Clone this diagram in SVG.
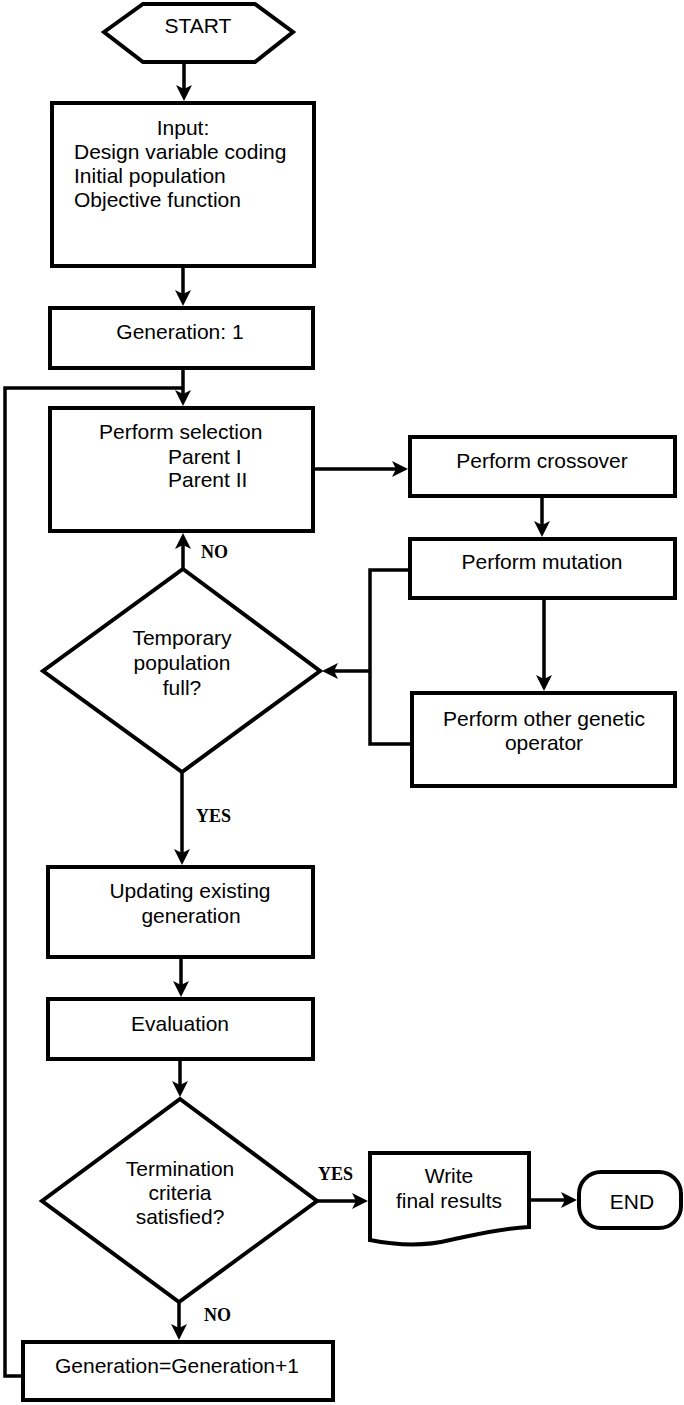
<svg xmlns="http://www.w3.org/2000/svg" width="684" height="1405" viewBox="0 0 684 1405">
<style>
.box{fill:#fff;stroke:#000;stroke-width:4}
.ln{fill:none;stroke:#000;stroke-width:3.5}
.t{font-family:"Liberation Sans",Arial,sans-serif;font-size:21px;fill:#000}
.c{text-anchor:middle}
.lb{font-family:"Liberation Serif","Times New Roman",serif;font-size:18px;font-weight:bold;fill:#000}
</style>
<defs>
<marker id="ah" viewBox="0 0 16 16" refX="11" refY="8" markerWidth="16" markerHeight="16" markerUnits="userSpaceOnUse" orient="auto">
<path d="M0,0 L16,8 L0,16 L4,8 z" fill="#000"/>
</marker>
</defs>
<rect width="684" height="1405" fill="#fff"/>
<g id="connectors">
<line class="ln" x1="184" y1="62" x2="184" y2="96" marker-end="url(#ah)"/>
<line class="ln" x1="183" y1="266" x2="183" y2="301" marker-end="url(#ah)"/>
<line class="ln" x1="183" y1="368" x2="183" y2="401" marker-end="url(#ah)"/>
<polyline class="ln" points="23,1376 5,1376 5,388 183,388"/>
<line class="ln" x1="313" y1="469" x2="403" y2="469" marker-end="url(#ah)"/>
<line class="ln" x1="542" y1="496" x2="542" y2="532" marker-end="url(#ah)"/>
<line class="ln" x1="544" y1="598" x2="544" y2="686" marker-end="url(#ah)"/>
<polyline class="ln" points="410,570 370,570 370,744 412,744"/>
<line class="ln" x1="370" y1="671" x2="327" y2="671" marker-end="url(#ah)"/>
<line class="ln" x1="183" y1="569" x2="183" y2="538" marker-end="url(#ah)"/>
<line class="ln" x1="182" y1="772" x2="182" y2="860" marker-end="url(#ah)"/>
<line class="ln" x1="181" y1="957" x2="181" y2="992" marker-end="url(#ah)"/>
<line class="ln" x1="180" y1="1059" x2="180" y2="1092" marker-end="url(#ah)"/>
<line class="ln" x1="179" y1="1302" x2="179" y2="1335" marker-end="url(#ah)"/>
<line class="ln" x1="317" y1="1201" x2="363" y2="1201" marker-end="url(#ah)"/>
<line class="ln" x1="529" y1="1200" x2="572" y2="1200" marker-end="url(#ah)"/>
<text class="lb" x="201" y="558">NO</text>
<text class="lb" x="196" y="822">YES</text>
<text class="lb" x="318" y="1180">YES</text>
<text class="lb" x="204" y="1321">NO</text>
</g>
<g id="start">
<polygon class="box" points="104,32 143,4 255,4 293,32 255,62 143,62"/>
<text class="t c" x="198" y="33">START</text>
</g>
<g id="input">
<rect class="box" x="52" y="103" width="262" height="163"/>
<text class="t c" x="183" y="135">Input:</text>
<text class="t" x="74" y="159">Design variable coding</text>
<text class="t" x="74" y="183">Initial population</text>
<text class="t" x="74" y="207">Objective function</text>
</g>
<g id="gen1">
<rect class="box" x="50" y="308" width="263" height="60"/>
<text class="t c" x="180" y="339">Generation: 1</text>
</g>
<g id="selection">
<rect class="box" x="50" y="408" width="263" height="123"/>
<text class="t" x="99" y="439">Perform selection</text>
<text class="t" x="168" y="464">Parent I</text>
<text class="t" x="168" y="487">Parent II</text>
</g>
<g id="crossover">
<rect class="box" x="410" y="437" width="265" height="59"/>
<text class="t c" x="542" y="468">Perform crossover</text>
</g>
<g id="mutation">
<rect class="box" x="410" y="539" width="265" height="59"/>
<text class="t c" x="542" y="569">Perform mutation</text>
</g>
<g id="other">
<rect class="box" x="412" y="693" width="263" height="93"/>
<text class="t c" x="544" y="726">Perform other genetic</text>
<text class="t c" x="544" y="750">operator</text>
</g>
<g id="tempfull">
<polygon class="box" points="183,569 320,671 182,772 43,671"/>
<text class="t c" x="182" y="645">Temporary</text>
<text class="t c" x="182" y="670">population</text>
<text class="t c" x="182" y="695">full?</text>
</g>
<g id="updating">
<rect class="box" x="48" y="867" width="265" height="90"/>
<text class="t c" x="190" y="898">Updating existing</text>
<text class="t c" x="191" y="923">generation</text>
</g>
<g id="evaluation">
<rect class="box" x="48" y="999" width="265" height="60"/>
<text class="t c" x="180" y="1031">Evaluation</text>
</g>
<g id="termination">
<polygon class="box" points="180,1099 317,1201 179,1302 42,1201"/>
<text class="t c" x="180" y="1176">Termination</text>
<text class="t c" x="180" y="1200">criteria</text>
<text class="t c" x="180" y="1224">satisfied?</text>
</g>
<g id="write">
<path class="box" d="M370,1153 L529,1153 L529,1227 C500,1228 470,1236 450,1240 C430,1245 405,1247 370,1240 Z"/>
<text class="t c" x="449" y="1183">Write</text>
<text class="t c" x="449" y="1208">final results</text>
</g>
<g id="end">
<rect class="box" x="579" y="1172" width="102" height="56" rx="22" ry="22"/>
<text class="t c" x="632" y="1209">END</text>
</g>
<g id="geninc">
<rect class="box" x="23" y="1342" width="310" height="58"/>
<text class="t c" x="177" y="1373">Generation=Generation+1</text>
</g>
</svg>
